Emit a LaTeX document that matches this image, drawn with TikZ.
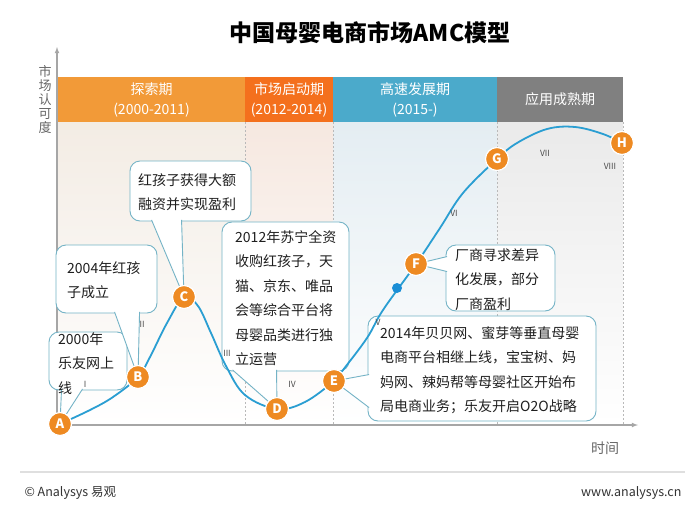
\documentclass[tikz,border=0pt]{standalone}
\usepackage{fontspec}
\setmainfont{Noto Sans CJK SC}
\usetikzlibrary{calc}
\definecolor{phaseA}{HTML}{F29A38}
\definecolor{phaseB}{HTML}{F4701D}
\definecolor{phaseC}{HTML}{4BAACB}
\definecolor{phaseD}{HTML}{808080}
\definecolor{tintA}{HTML}{F3ECE4}
\definecolor{tintB}{HTML}{F6E8E0}
\definecolor{tintC}{HTML}{E4EDF2}
\definecolor{tintD}{HTML}{EAEAEA}
\definecolor{ptorange}{HTML}{EE8A22}
\definecolor{curveblue}{HTML}{2A9ED2}
\definecolor{boxline}{HTML}{74B3C6}
\definecolor{dotblue}{HTML}{1A8ED6}
\begin{document}
\begin{tikzpicture}[x=1pt, y=-1pt, >=latex,
    band/.style={minimum height=45, inner sep=0pt, text=white, align=center, font=\fontsize{14}{20}\selectfont},
    cbox/.style={draw=boxline, line width=0.9pt, fill=white, rounded corners=10pt, inner sep=0pt},
    wedge/.style={draw=boxline, line width=0.9pt, fill=white},
    ctext/.style={anchor=north west, inner sep=0pt, align=left, text=black!88, font=\fontsize{14}{24.5}\selectfont},
    pt/.style={circle, fill=ptorange, draw=white, line width=1.2pt, minimum size=23, inner sep=0pt, text=white, font=\bfseries\fontsize{13}{13}\selectfont},
    rn/.style={text=black!70, font=\fontsize{8.5}{9}\selectfont},
    sep/.style={gray!55, dash pattern=on 2pt off 2pt, line width=0.6pt},
    ax/.style={->, gray!70, line width=1.1pt},
    curve/.style={curveblue, line width=1.8pt}]
  \useasboundingbox (0,0) rectangle (700,525);
  \fill[white] (0,0) rectangle (700,525);
  \shade[top color=tintA, bottom color=white] (58,122) rectangle (245,425);
  \shade[top color=tintB, bottom color=white] (245,122) rectangle (333,425);
  \shade[top color=tintC, bottom color=white] (333,122) rectangle (497,425);
  \shade[top color=tintD, bottom color=white] (497,122) rectangle (623,425);
  \node[band, fill=phaseA, minimum width=187] (ph1) at (151.5,99.5) {探索期\\(2000-2011)};
  \node[band, fill=phaseB, minimum width=88] (ph2) at (289,99.5) {市场启动期\\(2012-2014)};
  \node[band, fill=phaseC, minimum width=164] (ph3) at (415,99.5) {高速发展期\\(2015-)};
  \node[band, fill=phaseD, minimum width=126] (ph4) at (560,99.5) {应用成熟期};
  \foreach \xs in {245,333,497,623}
    \draw[sep] (\xs,122) -- (\xs,425);
  \coordinate (O) at (57,425);
  \coordinate (ytop) at (57,47);
  \coordinate (xend) at (638,425);
  \draw[ax] (O) -- (ytop);
  \draw[ax] (O) -- (xend);
  \node[text=black!60, align=center, font=\fontsize{13}{14}\selectfont] (ylab) at (45,100) {市\\场\\认\\可\\度};
  \node[text=black!60, font=\fontsize{14}{16}\selectfont] (xlab) at (605,448) {时间};
  \coordinate (cA) at (60,424);
  \coordinate (cB) at (138,377);
  \coordinate (cC) at (184,297);
  \coordinate (cD) at (277,409);
  \coordinate (cE) at (334,381);
  \coordinate (cF) at (416,264);
  \coordinate (cG) at (497,159);
  \coordinate (cH) at (622,143);
  \node[cbox, minimum width=78, minimum height=58] (b1) at (88,361) {};
  \node[cbox, minimum width=101, minimum height=68] (b2) at (106.5,279) {};
  \node[cbox, minimum width=121, minimum height=60] (b3) at (190.5,191) {};
  \node[cbox, minimum width=127, minimum height=149] (b4) at (285.5,296.5) {};
  \node[cbox, minimum width=109, minimum height=66] (b5) at (500.5,278) {};
  \node[cbox, minimum width=228, minimum height=105] (b6) at (482,368.5) {};
  \draw[wedge] ($(b1.south west)+(13,-1.5)$) -- (cA) -- ($(b1.south west)+(34,-1.5)$);
  \draw[wedge] ($(b2.south west)+(59,-1.5)$) -- (cB) -- ($(b2.south west)+(84,-1.5)$);
  \draw[wedge] ($(b3.south west)+(22,-1.5)$) -- (cC) -- ($(b3.south west)+(52,-1.5)$);
  \draw[wedge] ($(b4.south west)+(11,-1.5)$) -- (cD) -- ($(b4.south west)+(55,-1.5)$);
  \draw[wedge] ($(b5.north west)+(1.5,12)$) -- (cF) -- ($(b5.north west)+(1.5,27)$);
  \draw[wedge] ($(b6.north west)+(1.5,59)$) -- (cE) -- ($(b6.north west)+(1.5,92)$);
  \draw[curve] plot[smooth, tension=0.6] coordinates {(cA) (90,410) (113,397) (cB) (150,357) (167,323) (cC) (198,306) (211,333) (226,366) (245,395) (cD) (305,402) (cE) (343,370) (367,338) (383,310) (cF) (440,228) (463,193) (cG) (517,143) (547,129) (575,127) (603,134) (cH)};
  \node[circle, fill=dotblue, minimum size=10, inner sep=0pt] (dot) at (397,288) {};
  \node[pt] (A) at (cA) {A};
  \node[pt] (B) at (cB) {B};
  \node[pt] (C) at (cC) {C};
  \node[pt] (D) at (cD) {D};
  \node[pt] (E) at (cE) {E};
  \node[pt] (F) at (cF) {F};
  \node[pt] (G) at (cG) {G};
  \node[pt] (H) at (cH) {H};
  \node[rn] (r1) at (85,384) {I};
  \node[rn] (r2) at (142,324) {II};
  \node[rn] (r3) at (227,353) {III};
  \node[rn] (r4) at (292,384) {IV};
  \node[rn] (r5) at (378,322) {V};
  \node[rn] (r6) at (454,213) {VI};
  \node[rn] (r7) at (545,153) {VII};
  \node[rn] (r8) at (610,166) {VIII};
  \node[ctext] (t1) at (58,332) {2000年\\乐友网上\\线};
  \node[ctext] (t2) at (67,261) {2004年红孩\\子成立};
  \node[ctext] (t3) at (138,173) {红孩子获得大额\\融资并实现盈利};
  \node[ctext] (t4) at (235,230) {2012年苏宁全资\\收购红孩子，天\\猫、京东、唯品\\会等综合平台将\\母婴品类进行独\\立运营};
  \node[ctext] (t5) at (455,248) {厂商寻求差异\\化发展，部分\\厂商盈利};
  \node[ctext] (t6) at (380,326) {2014年贝贝网、蜜芽等垂直母婴\\电商平台相继上线，宝宝树、妈\\妈网、辣妈帮等母婴社区开始布\\局电商业务；乐友开启O2O战略};
  \node[font=\bfseries\fontsize{23}{28}\selectfont] (title) at (370,33) {中国母婴电商市场AMC模型};
  \draw[gray!25, line width=1.2pt] (20,472) -- (685,472);
  \node[anchor=west, text=black!80, font=\fontsize{12.5}{14}\selectfont] (copy) at (21,493) {© Analysys 易观};
  \node[anchor=east, text=black!80, font=\fontsize{12.5}{14}\selectfont] (site) at (685,493) {www.analysys.cn};
\end{tikzpicture}
\end{document}
